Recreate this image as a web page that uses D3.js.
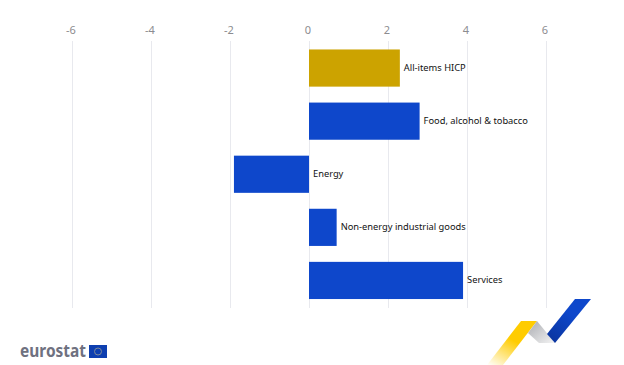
<!DOCTYPE html>
<html>
<head>
<meta charset="utf-8">
<script src="https://cdn.jsdelivr.net/npm/d3@7"></script>
<style>
html, body { margin: 0; padding: 0; background: #fff; }
text { font-family: "Noto Sans", "Open Sans", sans-serif; }
</style>
</head>
<body>
<div id="chart"></div>
<script>
var categories = ["All-items HICP", "Food, alcohol & tobacco", "Energy", "Non-energy industrial goods", "Services"];
var values = [2.3, 2.8, -1.9, 0.7, 3.9];
var barColors = ["#cca300", "#0e47cb", "#0e47cb", "#0e47cb", "#0e47cb"];
var tickValues = [-6, -4, -2, 0, 2, 4, 6];

var width = 624;
var height = 365;

var svg = d3.select("#chart").append("svg")
    .attr("width", width)
    .attr("height", height)
    .style("display", "block");

var x = d3.scaleLinear().domain([-6, 6]).range([72, 546]);
var y = d3.scaleBand().domain(categories).range([41.5, 307]).paddingInner(0.3).paddingOuter(0.15);

// gridlines and tick labels
svg.append("g").selectAll("line")
    .data(tickValues)
    .enter().append("line")
    .attr("x1", function (d) { return x(d) + 0.5; })
    .attr("x2", function (d) { return x(d) + 0.5; })
    .attr("y1", 41)
    .attr("y2", 308)
    .attr("stroke", "#e8e9ee")
    .attr("stroke-width", 1);

svg.append("g").selectAll("text")
    .data(tickValues)
    .enter().append("text")
    .attr("x", function (d) { return x(d) - 1; })
    .attr("y", 34)
    .attr("text-anchor", "middle")
    .attr("font-size", 11)
    .attr("fill", "#8c8c90")
    .text(function (d) { return d; });

// bars
svg.append("g").selectAll("rect")
    .data(values)
    .enter().append("rect")
    .attr("x", function (d) { return x(Math.min(0, d)); })
    .attr("y", function (d, i) { return y(categories[i]); })
    .attr("width", function (d) { return Math.abs(x(d) - x(0)); })
    .attr("height", y.bandwidth())
    .attr("fill", function (d, i) { return barColors[i]; });

// labels sit to the right of the bar, or of zero for negative bars
svg.append("g").selectAll("text")
    .data(values)
    .enter().append("text")
    .attr("x", function (d) { return x(Math.max(0, d)) + 4; })
    .attr("y", function (d, i) { return y(categories[i]) + y.bandwidth() / 2 + 3; })
    .attr("font-size", 9.3)
    .attr("fill", "#111")
    .text(function (d, i) { return categories[i]; });

// eurostat logo
svg.append("text")
    .attr("x", 20)
    .attr("y", 357)
    .attr("font-size", 17)
    .attr("font-weight", 700)
    .attr("font-family", "Liberation Sans, Arial, sans-serif")
    .attr("textLength", 66)
    .attr("lengthAdjust", "spacingAndGlyphs")
    .attr("fill", "#6f7180")
    .text("eurostat");
svg.append("rect")
    .attr("x", 89).attr("y", 345)
    .attr("width", 18).attr("height", 13)
    .attr("fill", "#0e3fb0");
svg.append("circle")
    .attr("cx", 98).attr("cy", 351.5).attr("r", 3.5)
    .attr("fill", "none")
    .attr("stroke", "#7d8a9a")
    .attr("stroke-width", 1);

// ribbon decoration
var defs = svg.append("defs");
var yellowGrad = defs.append("linearGradient")
    .attr("id", "ribbonYellow")
    .attr("x1", "0").attr("y1", "1").attr("x2", "0.6").attr("y2", "0.1");
yellowGrad.append("stop").attr("offset", "0").attr("stop-color", "#ffcc00").attr("stop-opacity", 0);
yellowGrad.append("stop").attr("offset", "0.7").attr("stop-color", "#ffcc00");
var greyGrad = defs.append("linearGradient")
    .attr("id", "ribbonGrey")
    .attr("x1", "0").attr("y1", "0").attr("x2", "1").attr("y2", "1");
greyGrad.append("stop").attr("offset", "0").attr("stop-color", "#a9abb0");
greyGrad.append("stop").attr("offset", "1").attr("stop-color", "#f4f4f4");
var blueGrad = defs.append("linearGradient")
    .attr("id", "ribbonBlue")
    .attr("x1", "0").attr("y1", "1").attr("x2", "0.5").attr("y2", "0.3");
blueGrad.append("stop").attr("offset", "0").attr("stop-color", "#0a339a");
blueGrad.append("stop").attr("offset", "1").attr("stop-color", "#0e47cb");

svg.append("path").attr("d", "M487,365 L521,321 L537,321 L503,365 Z").attr("fill", "url(#ribbonYellow)");
svg.append("path").attr("d", "M528,333 L537,321 L555,343 L539,343 Z").attr("fill", "url(#ribbonGrey)");
svg.append("path").attr("d", "M547,334 L575,299 L591,299 L555,343 Z").attr("fill", "url(#ribbonBlue)");
</script>
</body>
</html>
